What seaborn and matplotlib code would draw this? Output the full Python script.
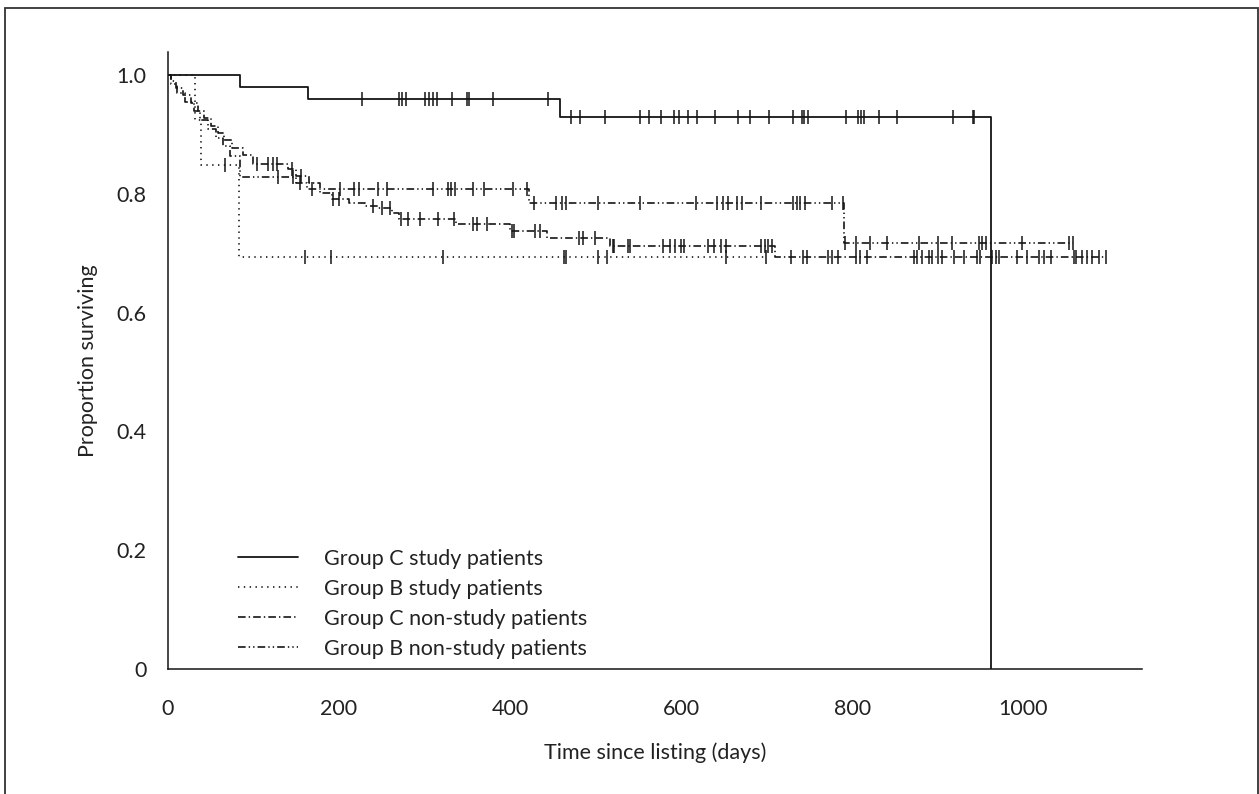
import numpy as np
import pandas as pd
import matplotlib
matplotlib.use("Agg")
import matplotlib.pyplot as plt
from matplotlib.lines import Line2D
from matplotlib.patches import Rectangle
import seaborn as sns

# ---------------- data ----------------
group_labels = ["Group C study patients", "Group B study patients",
                "Group C non-study patients", "Group B non-study patients"]

# Group C study patients
c_study_event_days = [84, 164, 458, 962]
c_study_surv = [0.980, 0.960, 0.930, 0.0]
c_study_censor = [227, 270, 274, 278, 300, 305, 310, 315, 332, 350, 352, 380, 444,
                  471, 482, 511, 552, 563, 577, 592, 598, 608, 619, 640, 666, 681,
                  703, 731, 741, 744, 748, 793, 807, 810, 814, 832, 853, 918, 941, 942]
c_study_end = 962

# Group B study patients
b_study_event_days = [32, 39, 83]
b_study_surv = [0.924, 0.848, 0.693]
b_study_censor = [67, 160, 191, 322, 463, 466, 503, 513, 653, 699]
b_study_end = 699

# Group C non-study patients
c_non_event_days = [3, 9, 17, 27, 35, 42, 50, 58, 66, 75, 88, 99, 140, 150, 165, 178,
                    192, 212, 230, 245, 262, 270, 337, 400, 443, 517, 710]
c_non_surv = [0.99, 0.978, 0.966, 0.953, 0.94, 0.928, 0.915, 0.902, 0.89, 0.878, 0.866,
              0.851, 0.842, 0.83, 0.818, 0.802, 0.791, 0.785, 0.78, 0.776, 0.768, 0.757,
              0.749, 0.737, 0.725, 0.712, 0.693]
c_non_censor = [104, 117, 123, 128, 145, 155, 193, 200, 240, 250, 260, 273, 281, 295,
                316, 335, 357, 361, 373, 402, 405, 429, 435, 481, 485, 499, 520, 522,
                538, 540, 579, 587, 593, 600, 603, 632, 639, 647, 653, 694, 698, 702,
                706, 728, 743, 747, 772, 776, 784, 804, 809, 817, 872, 876, 882, 890,
                894, 901, 905, 919, 931, 946, 950, 964, 968, 972, 993, 1005, 1019,
                1024, 1032, 1059, 1062, 1069, 1075, 1081, 1089, 1097]
c_non_end = 1097

# Group B non-study patients
b_non_event_days = [4, 11, 20, 30, 38, 47, 56, 64, 72, 84, 150, 163, 422, 790]
b_non_surv = [0.985, 0.97, 0.955, 0.94, 0.925, 0.91, 0.895, 0.88, 0.864, 0.829,
              0.818, 0.809, 0.784, 0.718]
b_non_censor = [129, 146, 154, 168, 201, 217, 223, 246, 256, 310, 328, 331, 336, 357,
                369, 404, 420, 428, 454, 461, 466, 503, 552, 618, 642, 649, 655, 665,
                671, 694, 731, 735, 739, 745, 776, 789, 792, 804, 821, 841, 878, 900,
                917, 948, 952, 956, 999, 1054, 1058]
b_non_end = 1058

x_ticks = [0, 200, 400, 600, 800, 1000]
y_ticks = [0, 0.2, 0.4, 0.6, 0.8, 1.0]
y_tick_labels = ["0", "0.2", "0.4", "0.6", "0.8", "1.0"]

# ---------------- style ----------------
sns.set_theme(style="white")
plt.rcParams["font.family"] = ["Lato", "DejaVu Sans"]
plt.rcParams["lines.scale_dashes"] = False
FS = 15.5

ls_solid = "-"
ls_dotted = (0, (1.0, 3.2))
ls_dashdot = (0, (5.5, 2.2, 1.0, 2.2))
ls_dashdotdot = (0, (5.5, 2.2, 1.0, 2.2, 1.0, 2.2))

groups = [
    (c_study_event_days, c_study_surv, c_study_censor, c_study_end, ls_solid, 1.3),
    (b_study_event_days, b_study_surv, b_study_censor, b_study_end, ls_dotted, 1.2),
    (c_non_event_days, c_non_surv, c_non_censor, c_non_end, ls_dashdot, 1.2),
    (b_non_event_days, b_non_surv, b_non_censor, b_non_end, ls_dashdotdot, 1.2),
]

W, H = 1259, 794
fig = plt.figure(figsize=(W / 100, H / 100), dpi=100)
ax_left, ax_right, ax_bottom, ax_top = 168, 1142, 669, 52
ax = fig.add_axes([ax_left / W, 1 - ax_bottom / H,
                   (ax_right - ax_left) / W, (ax_bottom - ax_top) / H])

ink = "#151515"

for ev, sv, cens, end, ls, lw in groups:
    xs = [0] + list(ev) + [end]
    ys = [1.0] + list(sv) + [sv[-1]]
    df = pd.DataFrame({"t": xs, "s": ys})
    sns.lineplot(data=df, x="t", y="s", ax=ax, estimator=None, sort=False,
                 drawstyle="steps-post", color=ink, linewidth=lw, linestyle=ls)
    # censor marks at the survival level of the curve
    ev_arr = np.array(ev)
    sv_arr = np.array([1.0] + list(sv))
    cy = [sv_arr[np.searchsorted(ev_arr, c, side="right")] for c in cens]
    cdf = pd.DataFrame({"t": cens, "s": cy})
    sns.scatterplot(data=cdf, x="t", y="s", ax=ax, marker="|", s=110,
                    color=ink, linewidth=1.1, zorder=5)

ax.set_xlim(0, 1139)
ax.set_ylim(0, 1.039)
ax.set_xticks(x_ticks)
ax.set_xticklabels([str(t) for t in x_ticks])
ax.set_yticks(y_ticks)
ax.set_yticklabels(y_tick_labels)
ax.tick_params(axis="both", direction="out", length=8.6, width=1.0, colors=ink,
               labelsize=FS, labelcolor="#222222")
ax.tick_params(axis="x", pad=13)
ax.tick_params(axis="y", pad=7)
ax.set_xlabel("Time since listing (days)", fontsize=FS, color="#222222", labelpad=17)
ax.set_ylabel("Proportion surviving", fontsize=FS, color="#222222", labelpad=13)
sns.despine(ax=ax)
for sp in ["left", "bottom"]:
    ax.spines[sp].set_color(ink)
    ax.spines[sp].set_linewidth(1.1)
ax.grid(False)

handles = [Line2D([], [], color=ink, linewidth=g[5], linestyle=g[4]) for g in groups]
leg = ax.legend(handles, group_labels, loc="upper left",
                bbox_to_anchor=(238 / W, 1 - 549 / H), bbox_transform=fig.transFigure,
                frameon=False, fontsize=FS, handlelength=2.8, handletextpad=1.2,
                labelspacing=0.46, borderpad=0, borderaxespad=0)
for t in leg.get_texts():
    t.set_color("#222222")

# outer frame of the figure
fig.patches.append(Rectangle((5 / W, -0.02), (1258 - 5) / W, 1.02 - 8 / H,
                             transform=fig.transFigure, fill=False,
                             edgecolor="#333333", linewidth=1.3))

fig.savefig("out.png", dpi=100)
